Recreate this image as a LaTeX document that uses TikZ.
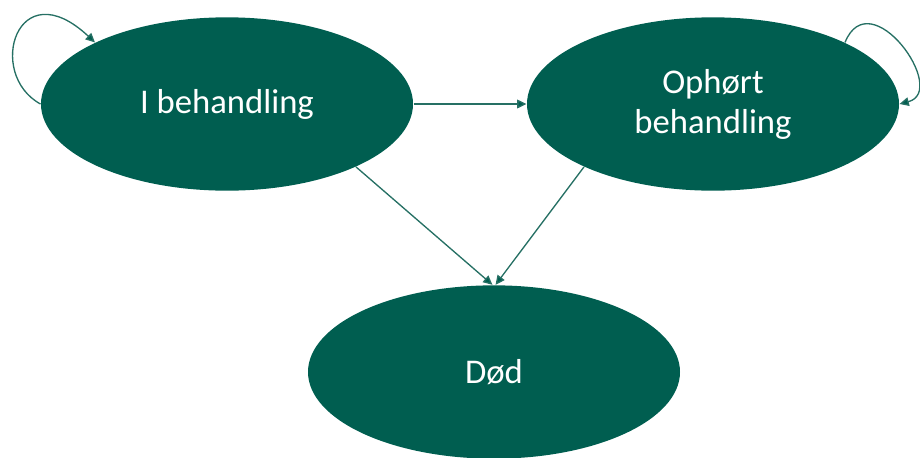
\documentclass[tikz,border=0pt]{standalone}
\usepackage{fontspec}
\setmainfont{Carlito}
\usetikzlibrary{shapes.geometric,arrows.meta}

\definecolor{stategreen}{RGB}{0,94,80}
\definecolor{arrowgreen}{RGB}{38,112,100}

\tikzset{every picture/.style={line width=0.75pt}}
\tikzset{
  state/.style={ellipse, fill=stategreen, text=white, inner sep=0pt,
    minimum width=279pt, minimum height=130pt, align=center,
    font=\fontsize{26}{30}\selectfont},
  trans/.style={draw=arrowgreen, line width=1pt,
    -{Triangle[length=7pt,width=6.5pt,fill=stategreen]}}
}

\begin{document}
\begin{tikzpicture}[x=0.75pt,y=0.75pt,yscale=-1,xscale=1]
\useasboundingbox (0,0) rectangle (920,457);

% States
\node [state] (ib) at (227,104) {I behandling};
\node [state] (oph) at (713,104) {Ophørt\\behandling};
\node [state] (dod) at (494,372) {Død};

% Transitions
\draw [trans] (ib.east) -- (oph.west) ;
\draw [trans] (ib.-26) -- (dod.91) ;
\draw [trans] (oph.206) -- (dod.89) ;

% Self loops
\draw [trans] (ib.180) .. controls +(-55,-30) and +(-78,-73) .. (ib.155) ;
\draw [trans] (oph.25) .. controls +(25,-62) and +(50,-13) .. (oph.0) ;

\end{tikzpicture}
\end{document}
